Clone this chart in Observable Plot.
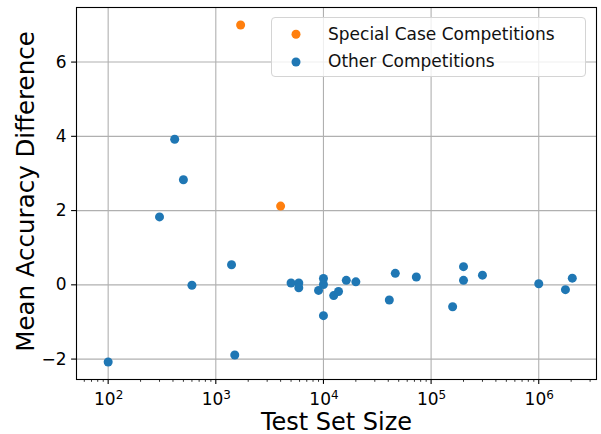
<!DOCTYPE html>
<html>
<head>
<meta charset="utf-8">
<script src="https://cdn.jsdelivr.net/npm/d3@7"></script>
<script src="https://cdn.jsdelivr.net/npm/@observablehq/plot@0.6"></script>
<style>
  body { margin: 0; background: #fff; font-family: "DejaVu Sans", sans-serif; }
  #wrap { position: relative; width: 601px; height: 434px; }
  #legend { position: absolute; left: 271px; top: 17px; width: 315px; height: 60px;
    box-sizing: border-box; border: 1px solid #d4d4d4; border-radius: 4px;
    background: rgba(255,255,255,0.8); }
  #legend svg { position: absolute; left: -1px; top: -1px; overflow: visible; }
</style>
</head>
<body>
<div id="wrap"></div>
<script>
// ---- data ----
const seriesNames = ["Special Case Competitions", "Other Competitions"];
const seriesColors = ["#ff7f0e", "#1f77b4"];

const specialSize = [1700, 4000];
const specialDiff = [7.0, 2.12];

const otherSize = [100, 300, 415, 500, 600, 1400, 1500, 5000, 5900, 5900, 9000,
  10000, 10000, 10000, 12450, 13800, 16300, 20000, 40900, 46500, 72900,
  158500, 200000, 200000, 300000, 1000000, 1770000, 2050000];
const otherDiff = [-2.08, 1.83, 3.92, 2.83, -0.01, 0.54, -1.89, 0.05, 0.05, -0.08, -0.15,
  0.17, 0.01, -0.83, -0.29, -0.18, 0.12, 0.08, -0.41, 0.31, 0.21,
  -0.59, 0.49, 0.12, 0.26, 0.03, -0.13, 0.18];

const yTicks = [-2, 0, 2, 4, 6];
const xTickExponents = [2, 3, 4, 5, 6];
const xLabel = "Test Set Size";
const yLabel = "Mean Accuracy Difference";

// ---- build ----
const xDomain = [50.8, 3.44e6];
const yDomain = [-2.55, 7.47];

const rows = [
  ...specialSize.map((s, i) => ({size: s, diff: specialDiff[i], group: seriesNames[0]})),
  ...otherSize.map((s, i) => ({size: s, diff: otherDiff[i], group: seriesNames[1]}))
];

const xMajor = xTickExponents.map(e => 10 ** e);
const xMinor = [];
for (let e = 1; e <= 6; e++) for (let m = 2; m <= 9; m++) {
  const v = m * 10 ** e;
  if (v >= xDomain[0] && v <= xDomain[1]) xMinor.push(v);
}
const fmtY = d => d < 0 ? "\u2212" + (-d) : String(d);

const chart = Plot.plot({
  width: 601, height: 434,
  marginLeft: 76, marginRight: 5, marginTop: 7, marginBottom: 55,
  style: {fontFamily: "'DejaVu Sans', sans-serif", fontSize: "17px", background: "#fff", color: "#000"},
  x: {type: "log", domain: xDomain, label: null},
  y: {domain: yDomain, label: null},
  color: {domain: seriesNames, range: seriesColors},
  marks: [
    Plot.gridX(xMajor, {stroke: "#b0b0b0", strokeOpacity: 1, strokeWidth: 1.1}),
    Plot.gridY(yTicks, {stroke: "#b0b0b0", strokeOpacity: 1, strokeWidth: 1.1}),
    Plot.axisX(xMinor, {tickSize: 2.8, tickFormat: () => "", strokeWidth: 0.8, label: null}),
    Plot.axisX(xMajor, {tickSize: 4.9, tickFormat: () => "", strokeWidth: 1.1, label: null}),
    Plot.axisY(yTicks, {tickSize: 4.9, tickPadding: 5, tickFormat: fmtY, fontSize: 17, strokeWidth: 1.1, label: null}),
    Plot.text(xTickExponents, {x: e => 10 ** e, text: () => "10", frameAnchor: "bottom",
      lineAnchor: "bottom", textAnchor: "end", dx: 7.5, dy: 25, fontSize: 17}),
    Plot.text(xTickExponents, {x: e => 10 ** e, text: e => String(e), frameAnchor: "bottom",
      lineAnchor: "bottom", textAnchor: "start", dx: 7.5, dy: 19, fontSize: 12}),
    Plot.text([xLabel], {text: d => d, frameAnchor: "bottom", lineAnchor: "bottom",
      textAnchor: "middle", dy: 50, fontSize: 24}),
    Plot.text([yLabel], {text: d => d, frameAnchor: "left", rotate: -90, lineAnchor: "bottom",
      textAnchor: "middle", dx: -43, dy: -2, fontSize: 24.5}),
    Plot.frame({stroke: "#000", strokeWidth: 1.1}),
    Plot.dot(rows, {x: "size", y: "diff", fill: "group", r: 4.5})
  ]
});

const wrap = document.getElementById("wrap");
wrap.appendChild(chart);

// legend (inside the plot area, upper right)
const legend = document.createElement("div");
legend.id = "legend";
const ns = "http://www.w3.org/2000/svg";
const lsvg = document.createElementNS(ns, "svg");
lsvg.setAttribute("width", 315);
lsvg.setAttribute("height", 60);
const entryY = [17.3, 45];
seriesNames.forEach((name, i) => {
  const c = document.createElementNS(ns, "circle");
  c.setAttribute("cx", 25);
  c.setAttribute("cy", entryY[i]);
  c.setAttribute("r", 4.5);
  c.setAttribute("fill", seriesColors[i]);
  lsvg.appendChild(c);
  const t = document.createElementNS(ns, "text");
  t.setAttribute("x", 57);
  t.setAttribute("y", entryY[i] + 5.2);
  t.setAttribute("font-size", 17);
  t.setAttribute("font-family", "'DejaVu Sans', sans-serif");
  t.setAttribute("fill", "#111");
  t.textContent = name;
  lsvg.appendChild(t);
});
legend.appendChild(lsvg);
wrap.appendChild(legend);
</script>
</body>
</html>
